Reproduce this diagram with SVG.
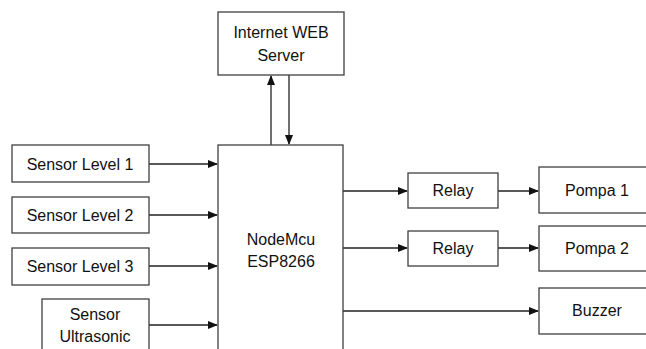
<svg xmlns="http://www.w3.org/2000/svg" width="646" height="349" viewBox="0 0 646 349">
<style>
.box{fill:#fff;stroke:#404040;stroke-width:1.3}
.t{font-family:"Liberation Sans",Arial,sans-serif;font-size:16px;fill:#111;text-anchor:middle}
.c{stroke:#222;stroke-width:1.3;fill:none;marker-end:url(#ah)}
</style>
<defs>
<marker id="ah" markerWidth="10" markerHeight="8" refX="9" refY="4" orient="auto" markerUnits="userSpaceOnUse">
<path d="M0,0 L10,4 L0,8 z" fill="#111"/>
</marker>
</defs>
<rect width="646" height="349" fill="#fff"/>
<g id="connectors">
<line class="c" x1="271" y1="145" x2="271" y2="76"/>
<line class="c" x1="289" y1="75" x2="289" y2="144"/>
<line class="c" x1="149" y1="164" x2="217" y2="164"/>
<line class="c" x1="149" y1="215" x2="217" y2="215"/>
<line class="c" x1="149" y1="266" x2="217" y2="266"/>
<line class="c" x1="149" y1="325" x2="217" y2="325"/>
<line class="c" x1="343" y1="191" x2="407" y2="191"/>
<line class="c" x1="343" y1="248" x2="407" y2="248"/>
<line class="c" x1="343" y1="311" x2="538" y2="311"/>
<line class="c" x1="498" y1="191" x2="538" y2="191"/>
<line class="c" x1="498" y1="248" x2="538" y2="248"/>
</g>
<g id="web">
<rect class="box" x="218" y="12" width="126" height="63"/>
<text class="t" x="281" y="38">Internet WEB</text>
<text class="t" x="281" y="61">Server</text>
</g>
<g id="nodemcu">
<rect class="box" x="218" y="145" width="125" height="220"/>
<text class="t" x="281" y="245">NodeMcu</text>
<text class="t" x="281" y="267">ESP8266</text>
</g>
<g id="s1">
<rect class="box" x="12" y="145" width="137" height="37"/>
<text class="t" x="80" y="170">Sensor Level 1</text>
</g>
<g id="s2">
<rect class="box" x="12" y="197" width="137" height="36"/>
<text class="t" x="80" y="221">Sensor Level 2</text>
</g>
<g id="s3">
<rect class="box" x="12" y="248" width="137" height="37"/>
<text class="t" x="80" y="272">Sensor Level 3</text>
</g>
<g id="su">
<rect class="box" x="42" y="299" width="107" height="70"/>
<text class="t" x="95" y="320">Sensor</text>
<text class="t" x="95" y="342">Ultrasonic</text>
</g>
<g id="relay1">
<rect class="box" x="408" y="173" width="90" height="35"/>
<text class="t" x="453" y="196">Relay</text>
</g>
<g id="relay2">
<rect class="box" x="408" y="231" width="90" height="35"/>
<text class="t" x="453" y="254">Relay</text>
</g>
<g id="pompa1">
<rect class="box" x="539" y="167" width="120" height="46"/>
<text class="t" x="597" y="196">Pompa 1</text>
</g>
<g id="pompa2">
<rect class="box" x="539" y="226" width="120" height="45"/>
<text class="t" x="597" y="254">Pompa 2</text>
</g>
<g id="buzzer">
<rect class="box" x="539" y="288" width="120" height="46"/>
<text class="t" x="597" y="316">Buzzer</text>
</g>
</svg>
